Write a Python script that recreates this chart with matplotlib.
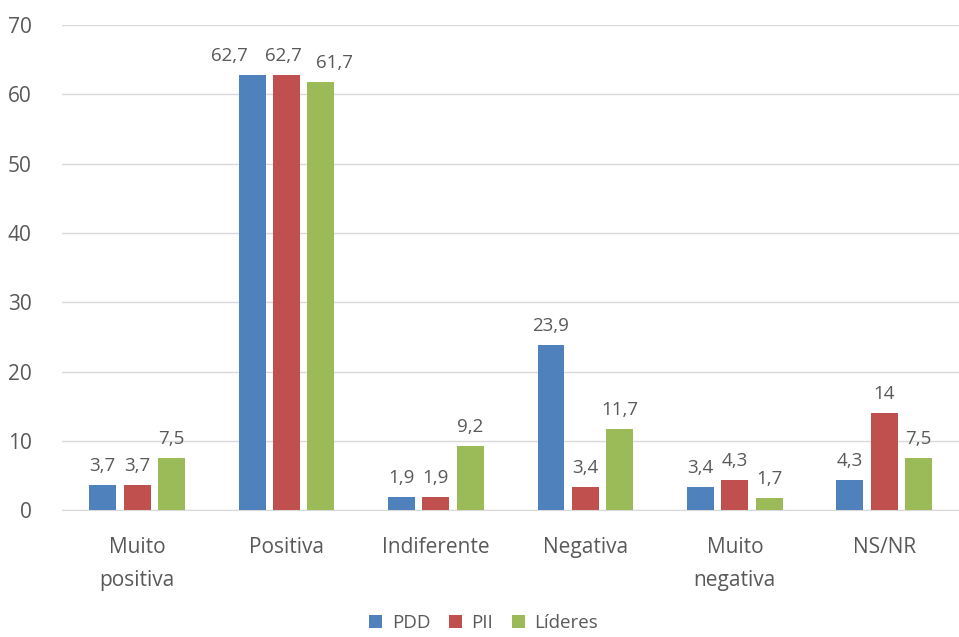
import numpy as np
import matplotlib
matplotlib.use("Agg")
import matplotlib.pyplot as plt

categories = ["Muito\npositiva", "Positiva", "Indiferente", "Negativa", "Muito\nnegativa", "NS/NR"]
series_names = ["PDD", "PII", "Líderes"]
pdd = [3.7, 62.7, 1.9, 23.9, 3.4, 4.3]
pii = [3.7, 62.7, 1.9, 3.4, 4.3, 14]
lideres = [7.5, 61.7, 9.2, 11.7, 1.7, 7.5]
colors = ["#4f81bd", "#c0504d", "#9bbb59"]

plt.rcParams['font.family'] = ['Open Sans', 'DejaVu Sans']
text_color = "#595959"

fig = plt.figure(figsize=(9.59, 6.37), dpi=100)
ax = fig.add_axes([0.065, 0.199, 0.935, 0.762])

# excel nudged the crowded labels of the "Positiva" group sideways
shift = {(0, 1): -23, (1, 1): -3, (2, 1): 14}

x = np.arange(len(categories))
width = 0.18
step = 0.23
for i, (vals, name) in enumerate(zip([pdd, pii, lideres], series_names)):
    pos = x + (i - 1) * step
    bars = ax.bar(pos, vals, width, color=colors[i], label=name, zorder=3)
    for j, (b, v) in enumerate(zip(bars, vals)):
        lbl = f"{v:g}".replace(".", ",")
        ax.annotate(lbl, (b.get_x() + b.get_width() / 2, v),
                    xytext=(shift.get((i, j), 0), 10), textcoords='offset pixels',
                    ha='center', va='bottom', fontsize=13.5, color=text_color)

ax.set_xlim(-0.5, len(categories) - 0.5)
ax.set_ylim(0, 70)
ax.set_yticks(range(0, 71, 10))
ax.yaxis.grid(True, color="#d9d9d9", linewidth=1, zorder=0)
for s in ["top", "right", "left"]:
    ax.spines[s].set_visible(False)
ax.spines["bottom"].set_color("#d9d9d9")
ax.tick_params(axis='both', length=0, labelsize=15, colors=text_color)
ax.tick_params(axis='y', pad=22)
ax.tick_params(axis='x', pad=19)
ax.set_xticks(x)
ax.set_xticklabels(categories, linespacing=1.75)

ax.legend(loc='lower center', bbox_to_anchor=(0.47, -0.285), ncol=3, frameon=False,
          fontsize=13.5, handlelength=0.7, handleheight=0.7, columnspacing=1.0,
          handletextpad=0.5, labelcolor=text_color)

fig.savefig("out.png", dpi=100)
